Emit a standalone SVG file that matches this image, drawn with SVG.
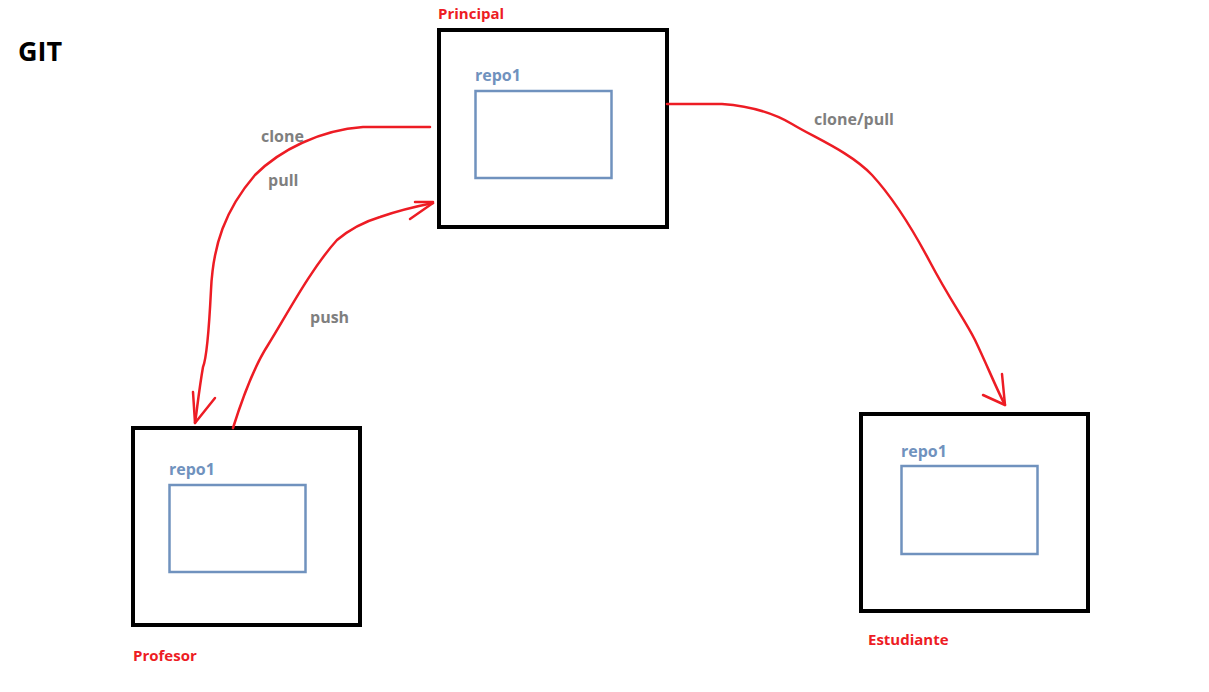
<svg xmlns="http://www.w3.org/2000/svg" width="1209" height="692" viewBox="0 0 1209 692">
<style>
.outer{fill:none;stroke:#000;stroke-width:4}
.inner{fill:none;stroke:#7092be;stroke-width:2.5}
.t{font-family:"Open Sans","Liberation Sans",sans-serif;font-weight:bold}
.red{fill:#ed1c24;font-size:15px}
.blue{fill:#7092be;font-size:16px}
.gray{fill:#7f7f7f;font-size:16px}
.c{fill:none;stroke:#ed1c24;stroke-width:2.5;stroke-linecap:round;stroke-linejoin:round}
</style>
<rect width="1209" height="692" fill="#fff"/>
<text class="t" x="18" y="61" font-size="27" fill="#000">GIT</text>
<g id="principal">
<rect class="outer" x="439" y="30" width="228" height="197"/>
<rect class="inner" x="475.5" y="91" width="136" height="87"/>
<text class="t red" x="438" y="19">Principal</text>
<text class="t blue" x="475" y="81">repo1</text>
</g>
<g id="profesor">
<rect class="outer" x="133" y="428" width="227" height="197"/>
<rect class="inner" x="169.5" y="485" width="136" height="87"/>
<text class="t blue" x="169" y="475">repo1</text>
<text class="t red" x="133" y="661">Profesor</text>
</g>
<g id="estudiante">
<rect class="outer" x="861" y="414" width="227" height="197"/>
<rect class="inner" x="901.5" y="466" width="136" height="88"/>
<text class="t blue" x="901" y="457">repo1</text>
<text class="t red" x="868" y="645">Estudiante</text>
</g>
<g id="connectors">
<path class="c" d="M430,127 L363,127 C320,130 280,150 255,175 C225,210 213,245 211,290 C209,330 206,360 203,367 C199,390 197,410 195,423"/>
<path class="c" d="M193,392 L195,423 L215,398"/>
<path class="c" d="M233,428 C245,390 255,365 268,345 C285,318 310,270 337,240 C355,225 370,220 380,217 C400,210 418,206 433,203"/>
<path class="c" d="M415,202 L433,202 M410,219 L433,203"/>
<path class="c" d="M667,104 L722,104 C750,106 775,114 792,124 C815,138 850,152 872,175 C895,200 912,228 930,262 C950,300 965,320 975,340 C987,365 997,390 1005,405"/>
<path class="c" d="M1002,374 L1005,405 L983,395"/>
<text class="t gray" x="261" y="142">clone</text>
<text class="t gray" x="268" y="186">pull</text>
<text class="t gray" x="310" y="323">push</text>
<text class="t gray" x="814" y="125">clone/pull</text>
</g>
</svg>
